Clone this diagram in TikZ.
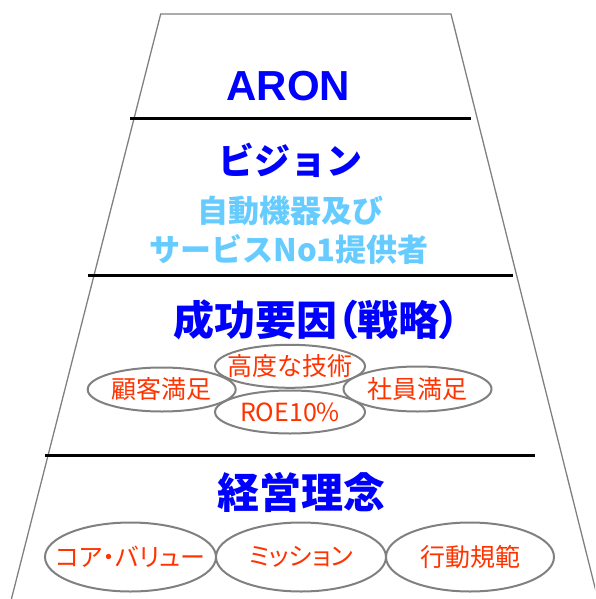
\documentclass[tikz,border=0pt]{standalone}
\usepackage{fontspec}
\usetikzlibrary{shapes.geometric}
\newfontfamily\jp{Noto Sans CJK JP}
\newfontfamily\jpp[CharacterWidth=AlternateProportional]{Noto Sans CJK JP}
\newfontfamily\lat{Liberation Sans}
\definecolor{titleblue}{RGB}{0,0,255}
\definecolor{lightblue}{RGB}{102,204,255}
\definecolor{labelred}{RGB}{255,51,0}
\definecolor{edgegray}{RGB}{128,128,128}
\newcommand{\zw}[1]{\makebox[0pt]{#1}}
\tikzset{
  trap/.style={draw=edgegray, line width=1.3pt},
  sep/.style={draw=black, line width=2.6pt},
  title/.style={text=titleblue, inner sep=0pt, font=\jp\bfseries\fontsize{#1}{#1}\selectfont},
  ptitle/.style={text=titleblue, inner sep=0pt, font=\jpp\bfseries\fontsize{#1}{#1}\selectfont},
  sub/.style={text=lightblue, inner sep=0pt, font=\jp\bfseries\fontsize{31}{31}\selectfont},
  oval/.style={ellipse, draw=edgegray, line width=2pt, inner sep=0pt, text=labelred,
     font=\jpp\fontsize{25}{25}\selectfont},
}
\begin{document}
\begin{tikzpicture}[x=1pt,y=-1pt]
\useasboundingbox (0,0) rectangle (595,599);
\clip (0,0) rectangle (595,599);
% trapezoid
\coordinate (bl) at (11.4,599);
\coordinate (tl) at (160.7,14);
\coordinate (tr) at (451,14);
\coordinate (br) at (597.9,599);
\draw[trap] (bl) -- (tl) -- (tr) -- (br);
% separators
\coordinate (s1a) at (130,118.5); \coordinate (s1b) at (471,118.5);
\coordinate (s2a) at (87.5,275.5); \coordinate (s2b) at (513,275.5);
\coordinate (s3a) at (45,455.5);  \coordinate (s3b) at (535,455.5);
\draw[sep] (s1a) -- (s1b);
\draw[sep] (s2a) -- (s2b);
\draw[sep] (s3a) -- (s3b);
% texts
\node[inner sep=0pt, text=titleblue, font=\lat\bfseries\fontsize{42}{42}\selectfont] (aron) at (288.5,86) {ARON};
\node[title=36] (vision) at (290,160.5) {ビジョン};
\node[sub] (v1) at (290,211) {自動機器及び};
\node[sub] (v2) at (289,249) {サービスNo1提供者};
\node[ptitle=41] (kfs) at (316.5,320) {成功要因（戦略）};
\node[oval, minimum width=148pt, minimum height=44pt] (e1) at (161.7,389.5) {\zw{顧客満足}};
\node[oval, minimum width=150pt, minimum height=43pt] (e2) at (290,366.3) {\zw{高度な技術}};
\node[oval, minimum width=148pt, minimum height=45pt] (e3) at (417.5,389) {\zw{社員満足}};
\node[oval, minimum width=150pt, minimum height=43pt] (e4) at (290,412) {\zw{ROE10\%}};
\node[title=42] (rinen) at (301.5,492) {経営理念};
\node[oval, minimum width=171pt, minimum height=69pt] (b1) at (130.5,557) {\zw{コア・バリュー}};
\node[oval, minimum width=170pt, minimum height=69pt] (b2) at (301,557) {\zw{ミッション}};
\node[oval, minimum width=168pt, minimum height=69pt] (b3) at (470,557) {\zw{行動規範}};
\end{tikzpicture}
\end{document}
